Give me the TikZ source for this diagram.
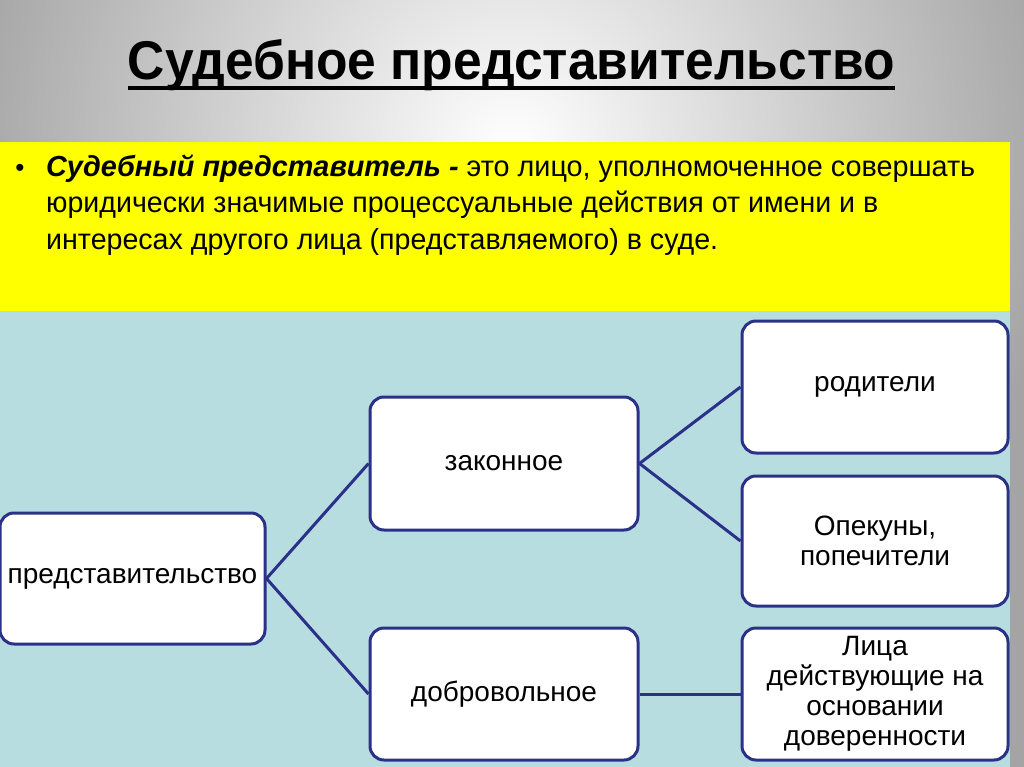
\documentclass[tikz,border=0pt]{standalone}
\usepackage{fontspec}
\setmainfont{Liberation Sans}
\usepackage{graphicx}
\definecolor{bgout}{HTML}{A4A4A4}
\definecolor{ylw}{HTML}{FFFF00}
\definecolor{lblue}{HTML}{B8DDE1}
\definecolor{navy}{HTML}{2B3188}
\tikzset{
  box/.style={draw=navy, line width=3pt, fill=white, rounded corners=14pt, align=center,
    font=\fontsize{28}{30}\selectfont, inner sep=0pt},
  link/.style={draw=navy, line width=3pt},
  line/.style={anchor=base west, inner sep=0pt, font=\fontsize{29}{32}\selectfont}
}
\begin{document}
\begin{tikzpicture}[x=1pt,y=-1pt]
\useasboundingbox (0,0) rectangle (1024,767);
\begin{scope}
\clip (0,0) rectangle (1024,767);
\shade[inner color=white, outer color=bgout] (-48,-410) rectangle (1072,710);
\fill[bgout] (1010,700) rectangle (1024,767);
\end{scope}
\fill[ylw] (0,142) rectangle (1010,311);
\fill[lblue] (0,311) rectangle (1010,767);
% title
\node[anchor=base, inner sep=0pt] (title) at (511.5,80)
  {\resizebox{767pt}{40pt}{\bfseries Судебное представительство}};
\fill (128,86) rectangle (895,90);
% definition
\node[anchor=base, inner sep=0pt, font=\fontsize{26}{30}\selectfont] (bullet) at (20,177) {•};
\node[line] (l1) at (46,177) {\resizebox{929pt}{\height}{\textbf{\textit{Судебный представитель -}} это лицо, уполномоченное совершать}};
\node[line] (l2) at (46,213) {\resizebox{832pt}{\height}{юридически значимые процессуальные действия от имени и в}};
\node[line] (l3) at (46,249) {\resizebox{672pt}{\height}{интересах другого лица (представляемого) в суде.}};
% boxes
\node[box, minimum width=265pt, minimum height=131pt] (rep) at (132.5,578.5) {представительство};
\node[box, minimum width=268pt, minimum height=133pt] (zak) at (504,463.5) {законное};
\node[box, minimum width=268pt, minimum height=132pt] (dob) at (504,694) {добровольное};
\node[box, minimum width=266pt, minimum height=132pt] (rod) at (875,387) {родители};
\node[box, minimum width=266pt, minimum height=130pt] (opk) at (875,541) {Опекуны,\\попечители};
\node[box, minimum width=266pt, minimum height=132pt] (lic) at (875,694) {Лица\\действующие на\\основании\\доверенности};
% connectors
\draw[link] (rep.east) -- (zak.west);
\draw[link] (rep.east) -- (dob.west);
\draw[link] (zak.east) -- (rod.west);
\draw[link] (zak.east) -- (opk.west);
\draw[link] (dob.east) -- (lic.west);
\end{tikzpicture}
\end{document}
